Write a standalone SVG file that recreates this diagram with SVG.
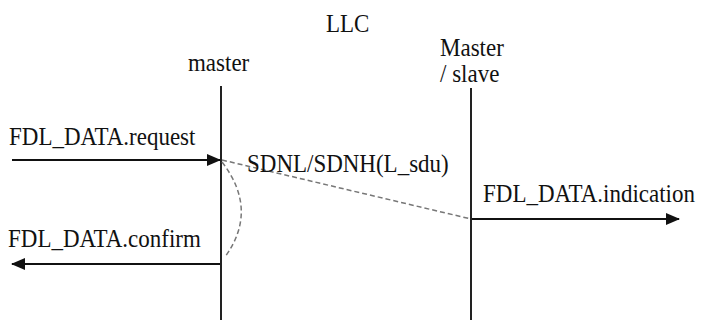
<svg xmlns="http://www.w3.org/2000/svg" width="702" height="320" viewBox="0 0 702 320">
<defs>
<style>
text{font-family:'Liberation Serif','Times New Roman','DejaVu Serif',serif;fill:#111;font-size:23px}
.life{stroke:#222;stroke-width:2;fill:none}
.msg{stroke:#111;stroke-width:2;fill:none}
.dash{stroke:#777;stroke-width:1.5;stroke-dasharray:5 3;fill:none}
</style>
<marker id="ah" viewBox="0 0 14 12" refX="13" refY="6" markerWidth="14" markerHeight="12" markerUnits="userSpaceOnUse" orient="auto">
<path d="M0,0 L14,6 L0,12 Z" fill="#111"/>
</marker>
</defs>
<rect width="702" height="320" fill="#fff"/>
<g id="title"><text font-family="Liberation Serif, serif" transform="translate(326,32) scale(1,1.05)" font-size="27">LLC</text></g>
<g id="master">
<text font-family="Liberation Serif, serif" transform="translate(188,71) scale(1,1.1)">master</text>
<line class="life" x1="221" y1="86" x2="221" y2="320"/>
</g>
<g id="masterslave">
<text font-family="Liberation Serif, serif" transform="translate(440,56) scale(1,1.1)">Master</text>
<text font-family="Liberation Serif, serif" transform="translate(440,82) scale(1,1.1)">/ slave</text>
<line class="life" x1="471" y1="88" x2="471" y2="320"/>
</g>
<g id="connectors">
<line class="msg" x1="12" y1="160" x2="220" y2="160" marker-end="url(#ah)"/>
<line class="dash" x1="222" y1="160" x2="471" y2="219"/>
<path class="dash" d="M222,162 Q259,210 225,257"/>
<line class="msg" x1="472" y1="219" x2="679" y2="219" marker-end="url(#ah)"/>
<line class="msg" x1="220" y1="264" x2="12" y2="264" marker-end="url(#ah)"/>
</g>
<g id="labels">
<text font-family="Liberation Serif, serif" transform="translate(9,145) scale(1,1.1)">FDL_DATA.request</text>
<text font-family="Liberation Serif, serif" transform="translate(247,172) scale(1,1.1)">SDNL/SDNH(L_sdu)</text>
<text font-family="Liberation Serif, serif" transform="translate(483,202) scale(1,1.1)">FDL_DATA.indication</text>
<text font-family="Liberation Serif, serif" transform="translate(8,247) scale(1,1.1)">FDL_DATA.confirm</text>
</g>
</svg>
